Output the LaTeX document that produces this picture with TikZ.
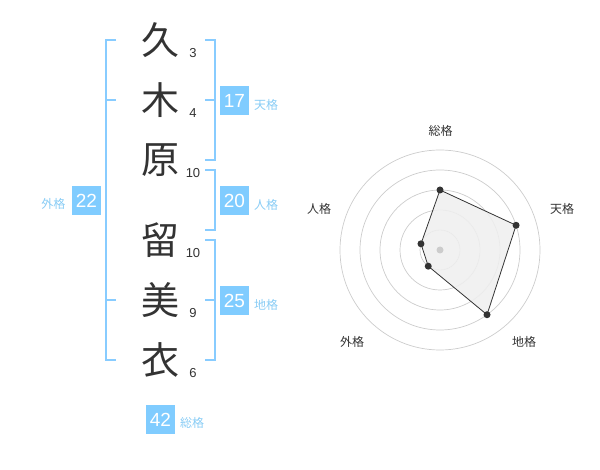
\documentclass[tikz,border=0pt]{standalone}
\usepackage{fontspec}
\usetikzlibrary{calc}
\setmainfont{Liberation Sans}
\newfontfamily\cjk{Noto Sans CJK JP}
\definecolor{brblue}{HTML}{88CCFF}
\definecolor{boxblue}{HTML}{80CCFF}
\definecolor{labblue}{HTML}{88CCF5}
\definecolor{ink}{HTML}{333333}
\definecolor{ringgray}{HTML}{CCCCCC}
\definecolor{areagray}{HTML}{EFEFEF}
\begin{document}
\begin{tikzpicture}[x=1pt,y=-1pt,
  br/.style={draw=brblue, line width=1.8pt},
  kanji/.style={font=\fontsize{38}{38}\cjk, text=ink, inner sep=0},
  strokenum/.style={font=\fontsize{13}{13}\selectfont, text=ink, inner sep=0},
  numbox/.style={fill=boxblue, text=white, minimum size=29pt, inner sep=0, font=\fontsize{19}{19}\selectfont},
  lab/.style={font=\fontsize{12}{12}\cjk, text=labblue, inner sep=0},
  rlab/.style={font=\fontsize{12}{12}\cjk, text=ink, inner sep=0},
  ring/.style={draw=ringgray, line width=0.7pt},
  dot/.style={circle, fill=ink, inner sep=0, minimum size=7pt}]
\useasboundingbox (0,0) rectangle (600,470);

% name characters
\node[kanji] (k1) at (160,40) {久};
\node[kanji] (k2) at (160,100) {木};
\node[kanji] (k3) at (160,160) {原};
\node[kanji] (k4) at (160,240) {留};
\node[kanji] (k5) at (160,300) {美};
\node[kanji] (k6) at (160,360) {衣};

% stroke counts
\node[strokenum] (s1) at (193,53) {3};
\node[strokenum] (s2) at (193,113) {4};
\node[strokenum] (s3) at (193,173) {10};
\node[strokenum] (s4) at (193,253) {10};
\node[strokenum] (s5) at (193,313) {9};
\node[strokenum] (s6) at (193,373) {6};

% brackets
\coordinate (gT) at (106,40);
\coordinate (gB) at (106,360);
\draw[br] (116,40) -- (gT) -- (gB) -- (116,360);
\draw[br] (106,100) -- (116,100);
\draw[br] (106,300) -- (116,300);

\draw[br] (205,40) -- (215,40) -- (215,160) -- (205,160);
\draw[br] (205,100) -- (215,100);
\draw[br] (205,170) -- (215,170) -- (215,230) -- (205,230);
\draw[br] (205,240) -- (215,240) -- (215,360) -- (205,360);
\draw[br] (205,300) -- (215,300);

% score boxes
\node[numbox] (ten) at (234.5,100.5) {17};
\node[lab] (tenl) at (266,105) {天格};
\node[numbox] (jin) at (234.5,200.5) {20};
\node[lab] (jinl) at (266,205) {人格};
\node[numbox] (chi) at (234.5,300.5) {25};
\node[lab] (chil) at (266,305) {地格};
\node[numbox] (gai) at (86.5,200.5) {22};
\node[lab] (gail) at (53.5,204) {外格};
\node[numbox] (sou) at (160.5,419.5) {42};
\node[lab] (soul) at (192,422.5) {総格};

% radar chart
\coordinate (c) at (440,250);
\foreach \r in {20,40,60,80,100}
  \draw[ring] (c) circle[radius=\r];
\coordinate (pS) at ($(c)+(-90:60)$);
\coordinate (pT) at ($(c)+(-18:80)$);
\coordinate (pC) at ($(c)+(54:80)$);
\coordinate (pG) at ($(c)+(126:20)$);
\coordinate (pJ) at ($(c)+(198:20)$);
\filldraw[fill=areagray, fill opacity=0.85, draw=ink, line width=0.8pt]
  (pS) -- (pT) -- (pC) -- (pG) -- (pJ) -- cycle;
\node[circle, fill=ringgray, inner sep=0, minimum size=7pt] (cd) at (c) {};
\foreach \p in {pS,pT,pC,pG,pJ}
  \node[dot] (d\p) at (\p) {};

\node[rlab] (rS) at (440.5,130.5) {総格};
\node[rlab] (rT) at (562,208.5) {天格};
\node[rlab] (rC) at (524,342) {地格};
\node[rlab] (rG) at (352,342) {外格};
\node[rlab] (rJ) at (319,208.5) {人格};
\end{tikzpicture}
\end{document}
